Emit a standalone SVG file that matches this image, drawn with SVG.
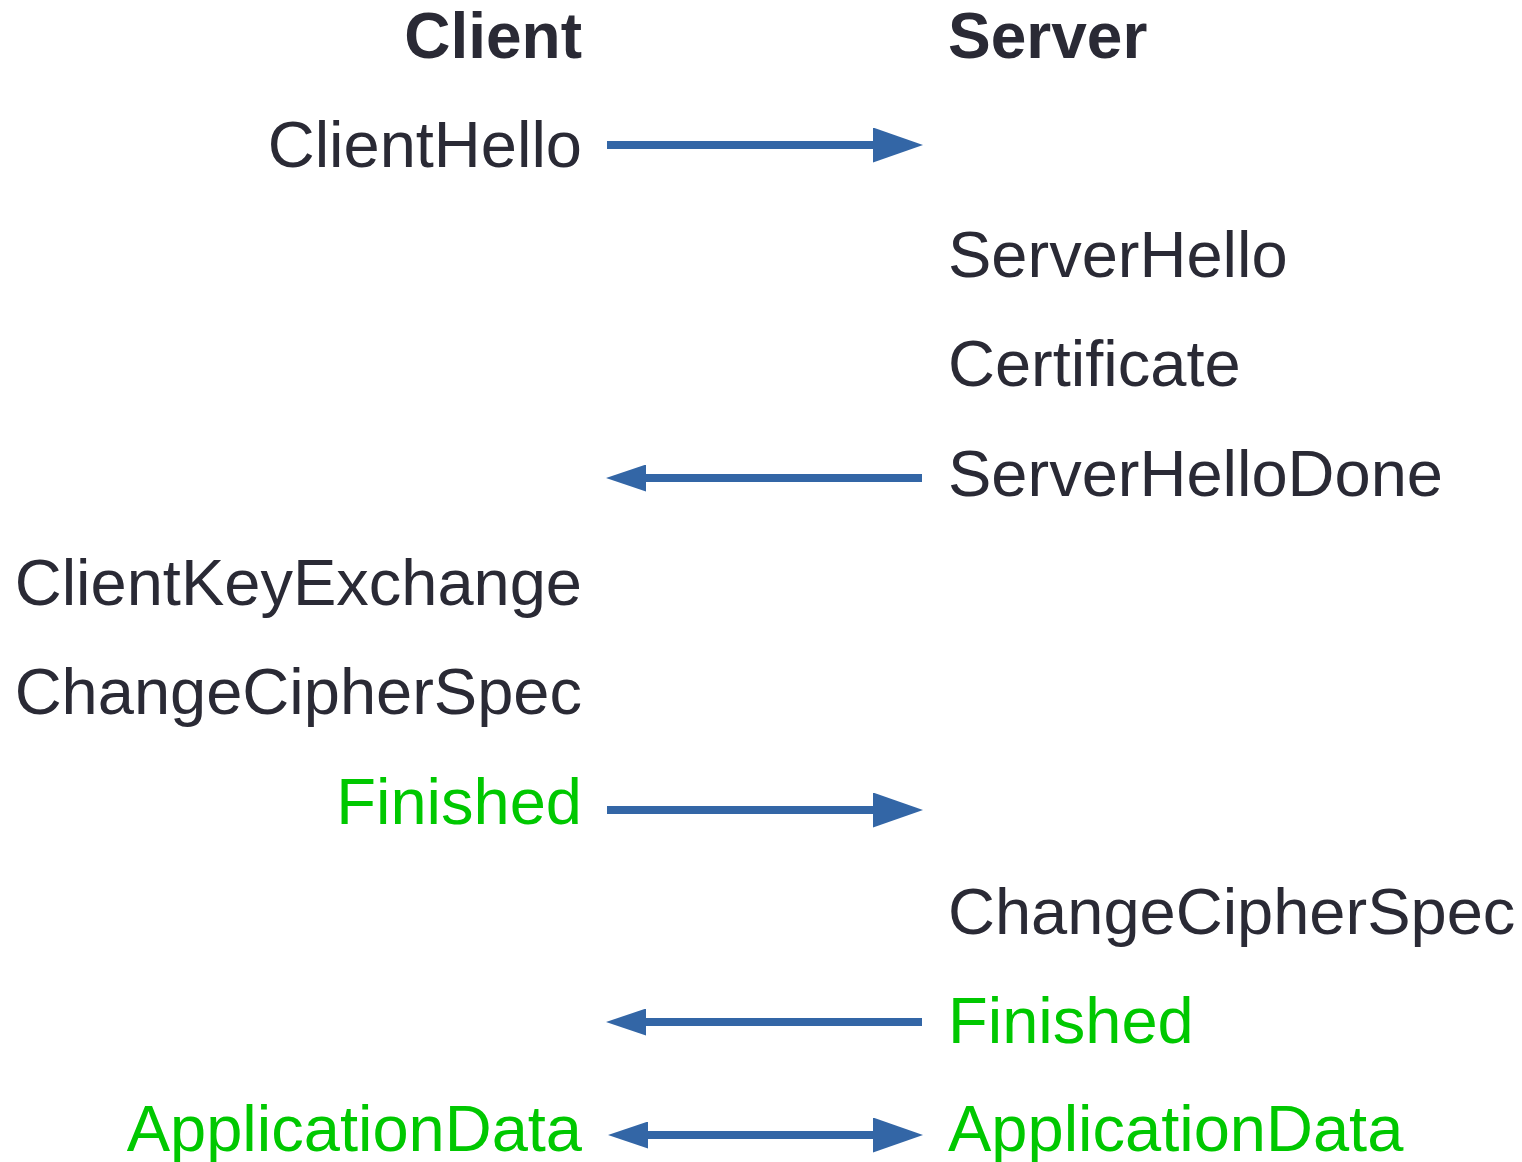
<svg xmlns="http://www.w3.org/2000/svg" width="1522" height="1162" viewBox="0 0 1522 1162">
<style>
  text { font-family: "Liberation Sans", Arial, sans-serif; font-size: 65px; fill: #2a2a35; }
  .hdr { font-weight: bold; font-size: 64px; }
  .l { text-anchor: end; }
  .g { fill: #00c800; }
  .conn line { stroke: #3366a6; stroke-width: 8; fill: none; }
</style>
<defs>
  <marker id="headEnd" markerUnits="userSpaceOnUse" markerWidth="50" markerHeight="35" viewBox="0 0 50 35" refX="7" refY="17.5" orient="auto">
    <path d="M0,0 L50,17.5 L0,35 z" fill="#3366a6"/>
  </marker>
  <marker id="headSmall" markerUnits="userSpaceOnUse" markerWidth="40" markerHeight="27" viewBox="0 0 40 27" refX="2" refY="13.5" orient="auto-start-reverse">
    <path d="M0,0 L40,13.5 L0,27 z" fill="#3366a6"/>
  </marker>
</defs>
<rect width="1522" height="1162" fill="#ffffff"/>

<g id="client-header"><text class="hdr l" x="582" y="58">Client</text></g>
<g id="server-header"><text class="hdr" x="948" y="58">Server</text></g>

<g id="client-hello"><text class="l" x="582" y="167">ClientHello</text></g>
<g id="server-hello"><text x="948" y="276.5">ServerHello</text></g>
<g id="certificate"><text x="948" y="386">Certificate</text></g>
<g id="server-hello-done"><text x="948" y="496">ServerHelloDone</text></g>
<g id="client-key-exchange"><text class="l" x="582" y="605">ClientKeyExchange</text></g>
<g id="client-change-cipher-spec"><text class="l" x="582" y="714">ChangeCipherSpec</text></g>
<g id="client-finished"><text class="l g" x="582" y="824">Finished</text></g>
<g id="server-change-cipher-spec"><text x="948" y="934">ChangeCipherSpec</text></g>
<g id="server-finished"><text class="g" x="948" y="1043">Finished</text></g>
<g id="client-application-data"><text class="l g" x="582" y="1151">ApplicationData</text></g>
<g id="server-application-data"><text class="g" x="948" y="1151">ApplicationData</text></g>

<g id="connectors" class="conn">
  <line x1="607" y1="145" x2="880" y2="145" marker-end="url(#headEnd)"/>
  <line x1="922" y1="478" x2="644" y2="478" marker-end="url(#headSmall)"/>
  <line x1="607" y1="810" x2="880" y2="810" marker-end="url(#headEnd)"/>
  <line x1="922" y1="1022" x2="644" y2="1022" marker-end="url(#headSmall)"/>
  <line x1="646" y1="1135" x2="880" y2="1135" marker-start="url(#headSmall)" marker-end="url(#headEnd)"/>
</g>
</svg>
